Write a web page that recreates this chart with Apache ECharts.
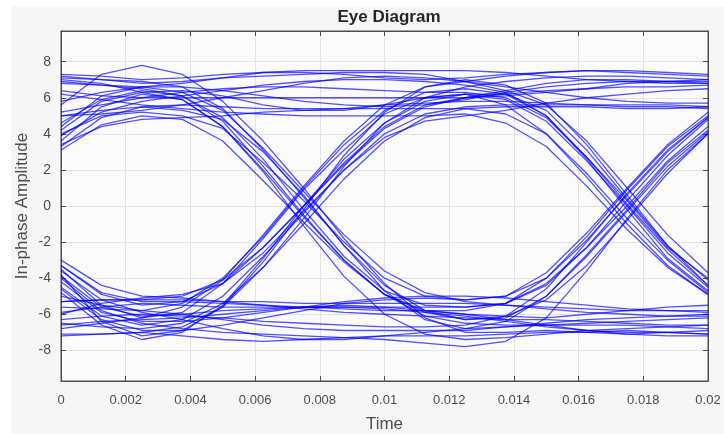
<!DOCTYPE html>
<html>
<head>
<meta charset="utf-8">
<script src="https://cdn.jsdelivr.net/npm/echarts@6/dist/echarts.min.js"></script>
<style>
  html, body { margin: 0; padding: 0; background: #ffffff; }
  #frame { position: absolute; left: 11px; top: 6px; width: 713px; height: 428px; background: #f6f6f6; }
  #chart { width: 713px; height: 428px; }
</style>
</head>
<body>
<div id="frame"><div id="chart"></div></div>
<script>
// sample instants of one trace (two symbol periods, 8 samples per symbol)
const timeStamps = [0, 0.00125, 0.0025, 0.00375, 0.005, 0.00625, 0.0075, 0.00875, 0.01,
  0.01125, 0.0125, 0.01375, 0.015, 0.01625, 0.0175, 0.01875, 0.02];

// traces, grouped by first -> second symbol
const highToHigh = [
  [6.4, 6.1, 6.0, 6.0, 6.0, 6.0, 6.0, 6.0, 6.0, 6.0, 6.0, 6.1, 6.3, 6.5, 6.8, 6.9, 7.0],
  [7.1, 7.0, 6.8, 6.9, 7.1, 7.2, 7.3, 7.4, 7.4, 7.3, 6.9, 6.4, 5.6, 3.6, 1.0, -1.6, -3.7],
  [3.3, 4.9, 5.5, 5.6, 5.5, 5.4, 5.4, 5.4, 5.4, 5.4, 5.4, 5.5, 5.5, 5.5, 5.4, 5.4, 5.5],
  [7.3, 7.2, 7.0, 7.1, 7.3, 7.4, 7.4, 7.3, 7.1, 7.0, 7.1, 7.3, 7.4, 7.5, 7.4, 7.3, 7.2],
  [4.2, 5.8, 6.3, 6.4, 6.1, 5.6, 5.3, 5.3, 5.6, 6.0, 6.2, 5.6, 4.0, 1.6, -1.0, -3.3, -4.9],
  [5.2, 5.6, 6.0, 6.3, 6.5, 6.6, 6.6, 6.5, 6.4, 6.3, 6.3, 6.0, 4.9, 2.7, 0.3, -2.3, -4.0],
  [6.9, 6.7, 6.6, 6.8, 7.1, 7.4, 7.5, 7.5, 7.5, 7.5, 7.5, 7.4, 7.2, 7.0, 6.9, 6.8, 6.8],
  [3.4, 4.4, 4.8, 4.9, 5.0, 5.2, 5.3, 5.4, 5.6, 5.7, 5.8, 5.8, 5.7, 5.6, 5.6, 5.6, 5.5],
  [6.2, 5.9, 5.6, 5.4, 5.2, 5.1, 5.0, 5.0, 5.0, 5.0, 5.1, 4.6, 3.3, 1.1, -1.3, -3.4, -4.9],
  [5.8, 6.3, 6.6, 6.6, 6.4, 6.1, 5.8, 5.6, 5.5, 5.6, 5.9, 6.3, 6.6, 6.8, 6.9, 6.9, 6.9],
  [3.9, 5.2, 5.8, 6.1, 6.4, 6.7, 6.9, 7.0, 7.0, 6.9, 6.7, 6.3, 5.0, 2.6, -0.2, -2.9, -4.7],
  [5.0, 5.1, 5.3, 5.6, 6.0, 6.4, 6.8, 7.1, 7.2, 7.1, 6.9, 6.6, 6.3, 6.0, 5.8, 5.7, 5.7]
];
const highToLow = [
  [3.6, 5.5, 6.2, 5.9, 4.4, 2.0, -0.6, -3.0, -4.9, -5.9, -6.3, -6.1, -5.2, -3.3, -0.8, 1.8, 4.0],
  [5.6, 7.3, 7.8, 7.3, 5.8, 3.6, 1.0, -1.8, -4.3, -6.2, -7.0, -7.0, -6.9, -7.0, -7.1, -7.0, -7.1],
  [6.8, 6.7, 6.5, 6.1, 4.9, 2.6, -0.2, -2.8, -4.7, -5.5, -5.6, -5.4, -4.3, -2.3, 0.0, 2.5, 4.4],
  [3.1, 4.5, 5.0, 4.8, 3.6, 1.4, -0.9, -3.1, -4.9, -5.8, -6.0, -6.1, -6.2, -6.0, -5.8, -5.6, -5.5],
  [5.0, 5.3, 5.5, 5.3, 4.8, 3.0, 0.6, -2.2, -4.7, -6.3, -6.8, -6.4, -5.0, -2.7, -0.2, 2.4, 4.2],
  [4.0, 5.0, 5.2, 5.0, 4.3, 2.4, 0.3, -2.0, -4.0, -5.0, -5.2, -5.0, -3.7, -1.5, 1.0, 3.4, 5.2],
  [7.0, 6.8, 6.3, 5.9, 4.4, 1.9, -1.1, -3.9, -6.0, -7.1, -7.4, -7.3, -7.1, -6.9, -6.8, -6.7, -6.6],
  [4.4, 6.1, 6.6, 6.3, 5.3, 3.2, 0.8, -1.6, -3.6, -4.8, -5.3, -5.5, -5.7, -5.9, -6.0, -6.1, -6.1],
  [7.2, 7.0, 6.9, 6.6, 5.4, 3.1, 0.5, -2.2, -4.4, -5.8, -6.3, -6.2, -5.0, -2.8, -0.3, 2.2, 4.1],
  [4.6, 5.9, 6.4, 6.1, 4.7, 2.2, -0.5, -3.0, -4.9, -6.1, -6.5, -6.6, -6.6, -6.5, -6.4, -6.3, -6.2]
];
const lowToHigh = [
  [-3.5, -5.5, -6.2, -5.9, -4.3, -1.8, 0.9, 3.1, 5.1, 6.0, 6.2, 5.9, 4.7, 2.5, 0.0, -2.6, -4.5],
  [-7.1, -7.1, -7.0, -6.7, -5.6, -3.4, -0.7, 2.2, 4.6, 6.0, 6.6, 6.9, 7.1, 7.2, 7.2, 7.1, 7.0],
  [-3.3, -4.9, -5.5, -5.3, -4.3, -2.3, 0.0, 2.4, 4.4, 5.6, 6.0, 6.2, 6.4, 6.5, 6.6, 6.6, 6.7],
  [-6.5, -6.7, -6.8, -6.5, -5.4, -3.4, -1.0, 1.5, 3.6, 4.9, 5.4, 5.1, 4.0, 1.8, -0.7, -3.0, -4.8],
  [-5.6, -5.7, -5.8, -5.4, -4.0, -1.7, 1.0, 3.4, 5.3, 6.3, 6.5, 6.2, 5.0, 2.7, 0.1, -2.4, -4.4],
  [-4.5, -6.1, -6.6, -6.3, -5.0, -2.8, -0.4, 2.0, 4.0, 5.1, 5.5, 5.6, 5.6, 5.6, 5.5, 5.5, 5.4],
  [-3.8, -6.4, -7.2, -6.9, -5.6, -3.1, -0.2, 2.8, 5.2, 6.6, 7.0, 6.7, 5.7, 3.4, 0.6, -2.2, -4.4],
  [-6.8, -6.5, -6.2, -5.6, -4.1, -1.6, 1.1, 3.6, 5.6, 6.6, 6.9, 7.2, 7.4, 7.5, 7.5, 7.4, 7.3],
  [-6.0, -5.4, -5.1, -4.9, -4.3, -2.6, -0.3, 2.0, 3.8, 4.7, 5.0, 5.3, 5.7, 6.0, 6.2, 6.4, 6.5],
  [-4.8, -6.6, -7.4, -7.0, -5.5, -2.9, 0.0, 2.6, 4.6, 5.8, 6.2, 6.2, 5.3, 3.1, 0.4, -2.2, -4.1],
  [-5.3, -5.2, -5.2, -5.0, -4.1, -2.3, 0.0, 2.3, 4.3, 5.5, 6.0, 6.4, 6.8, 7.0, 7.0, 6.9, 6.8]
];
const lowToLow = [
  [-5.3, -5.2, -5.2, -5.2, -5.3, -5.3, -5.4, -5.4, -5.4, -5.4, -5.4, -5.5, -5.6, -5.7, -5.8, -5.8, -5.8],
  [-6.3, -6.1, -6.0, -6.1, -6.2, -6.4, -6.5, -6.6, -6.7, -6.7, -6.6, -6.1, -4.6, -2.0, 0.7, 3.1, 4.9],
  [-3.0, -4.4, -5.0, -5.1, -5.3, -5.5, -5.7, -5.9, -6.0, -6.1, -6.2, -6.3, -6.3, -6.4, -6.5, -6.6, -6.6],
  [-7.2, -7.1, -7.0, -7.2, -7.4, -7.5, -7.4, -7.3, -7.2, -7.2, -7.2, -7.1, -7.0, -7.0, -6.9, -7.0, -7.1],
  [-4.0, -5.8, -6.5, -6.8, -7.0, -7.1, -7.2, -7.3, -7.4, -7.6, -7.8, -7.5, -6.2, -3.6, -0.7, 2.0, 4.0],
  [-5.9, -5.6, -5.4, -5.5, -5.6, -5.6, -5.6, -5.6, -5.6, -5.6, -5.6, -5.4, -4.4, -2.3, 0.3, 2.8, 4.8],
  [-4.2, -5.9, -6.4, -6.4, -6.2, -5.9, -5.6, -5.3, -5.1, -5.0, -5.0, -5.1, -5.3, -5.5, -5.7, -5.8, -5.9],
  [-5.0, -5.5, -5.8, -6.0, -6.3, -6.6, -6.8, -6.9, -6.9, -6.9, -6.9, -6.7, -6.5, -6.3, -6.2, -6.1, -6.0],
  [-3.3, -4.8, -5.3, -5.3, -5.4, -5.5, -5.6, -5.7, -5.8, -5.8, -5.8, -5.4, -4.0, -1.7, 0.9, 3.3, 5.0],
  [-3.6, -5.2, -5.9, -6.3, -6.8, -7.2, -7.4, -7.4, -7.2, -7.0, -6.8, -6.7, -6.6, -6.6, -6.6, -6.7, -6.8],
  [-4.6, -6.3, -6.9, -6.9, -6.6, -6.2, -5.8, -5.4, -5.2, -5.1, -5.2, -5.0, -4.0, -1.9, 0.6, 3.0, 4.9],
  [-6.6, -6.4, -6.3, -6.2, -6.0, -5.8, -5.6, -5.5, -5.6, -5.8, -6.0, -6.3, -6.6, -6.9, -7.1, -7.2, -7.2],
  [-3.9, -5.6, -6.1, -6.0, -5.8, -5.7, -5.6, -5.6, -5.7, -5.9, -6.1, -6.4, -6.7, -6.9, -7.0, -7.0, -6.9]
];

const allTraces = [...highToHigh, ...highToLow, ...lowToHigh, ...lowToLow];

const chart = echarts.init(document.getElementById('chart'));

const axisColor = '#4d4d4d';
const font = 'Liberation Sans, Arial, sans-serif';

const series = allTraces.map(tr => ({
  type: 'line',
  data: tr.map((v, i) => [timeStamps[i], v]),
  showSymbol: false,
  symbol: 'none',
  silent: true,
  lineStyle: { color: '#0000ff', width: 1.3, opacity: 0.68 },
  emphasis: { disabled: true }
}));

const boxAxis = {
  axisLine: { onZero: false, lineStyle: { color: axisColor } },
  axisTick: { inside: true, length: 5, lineStyle: { color: axisColor } },
  axisLabel: { show: false },
  splitLine: { show: false }
};

const option = {
  animation: false,
  title: {
    text: 'Eye Diagram',
    left: 373,
    top: -2,
    textAlign: 'center',
    textStyle: { fontFamily: font, fontSize: 17, fontWeight: 'bold', color: '#262626' }
  },
  grid: {
    left: 50, right: 16, top: 25, bottom: 53,
    containLabel: false, outerBoundsMode: 'none',
    show: true, backgroundColor: '#fbfbfb', borderColor: axisColor, borderWidth: 1
  },
  xAxis: [
    {
      type: 'value', min: 0, max: 0.02, interval: 0.002,
      name: 'Time', nameLocation: 'middle', nameGap: 35, nameMoveOverlap: false,
      nameTextStyle: { fontFamily: font, fontSize: 17, color: axisColor },
      axisLine: { onZero: false, lineStyle: { color: axisColor } },
      axisTick: { inside: true, length: 5, lineStyle: { color: axisColor } },
      axisLabel: {
        margin: 13, fontFamily: font, fontSize: 13, color: axisColor,
        formatter: v => String(parseFloat(v.toFixed(4)))
      },
      splitLine: { show: true, lineStyle: { color: '#e3e3e3' } }
    },
    Object.assign({ type: 'value', min: 0, max: 0.02, interval: 0.002, position: 'top' }, boxAxis)
  ],
  yAxis: [
    {
      type: 'value', min: -9.7, max: 9.7, minInterval: 2, maxInterval: 2,
      name: 'In-phase Amplitude', nameLocation: 'middle', nameGap: 30, nameMoveOverlap: false,
      nameTextStyle: { fontFamily: font, fontSize: 17, color: axisColor },
      axisLine: { onZero: false, lineStyle: { color: axisColor } },
      axisTick: { inside: true, length: 5, lineStyle: { color: axisColor } },
      axisLabel: {
        margin: 10, fontFamily: font, fontSize: 14, color: axisColor,
        formatter: v => (Math.abs(v) > 9 ? '' : String(Math.round(v)))
      },
      splitLine: { show: true, lineStyle: { color: '#e3e3e3' } }
    },
    Object.assign({ type: 'value', min: -9.7, max: 9.7, minInterval: 2, maxInterval: 2, position: 'right' }, boxAxis)
  ],
  series: series
};

chart.setOption(option);
</script>
</body>
</html>
